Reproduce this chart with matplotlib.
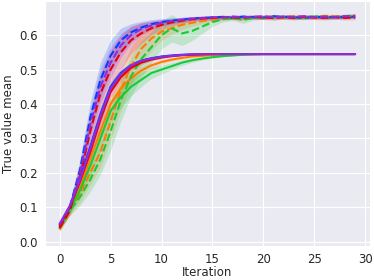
import matplotlib
matplotlib.use("Agg")
import matplotlib.pyplot as plt
import seaborn as sns
import numpy as np

sns.set_style("darkgrid")

iteration = list(range(30))

# bright palette: blue, orange, green, red, purple
colors = ["#023eff", "#ff7c00", "#1ac938", "#e8000b", "#8b2be2"]

# solid lines (mean) and spread
solid_blue = [0.050, 0.100, 0.185, 0.275, 0.370, 0.450, 0.490, 0.513, 0.526, 0.533, 0.538, 0.541, 0.543, 0.544] + [0.545] * 16
solid_orange = [0.040, 0.095, 0.160, 0.240, 0.320, 0.400, 0.445, 0.475, 0.497, 0.512, 0.522, 0.529, 0.534, 0.538, 0.540, 0.542, 0.543, 0.544] + [0.545] * 12
solid_green = [0.040, 0.090, 0.150, 0.220, 0.300, 0.380, 0.420, 0.450, 0.470, 0.490, 0.500, 0.510, 0.520, 0.527, 0.532, 0.536, 0.539, 0.541, 0.543, 0.544] + [0.545] * 10
solid_red = [0.045, 0.100, 0.175, 0.260, 0.355, 0.435, 0.478, 0.505, 0.520, 0.529, 0.535, 0.539, 0.542, 0.543, 0.544] + [0.545] * 15
solid_purple = [0.052, 0.105, 0.180, 0.270, 0.365, 0.445, 0.487, 0.512, 0.525, 0.532, 0.537, 0.540, 0.542, 0.544] + [0.545] * 16

solid_blue_sd = [0.006, 0.008, 0.015, 0.020, 0.020, 0.015, 0.010, 0.007, 0.005, 0.004, 0.003, 0.002] + [0.001] * 18
solid_orange_sd = [0.006, 0.010, 0.018, 0.025, 0.028, 0.025, 0.020, 0.016, 0.012, 0.009, 0.007, 0.005, 0.004, 0.003, 0.002] + [0.001] * 15
solid_green_sd = [0.006, 0.012, 0.022, 0.030, 0.035, 0.035, 0.032, 0.026, 0.020, 0.016, 0.013, 0.010, 0.008, 0.006, 0.004, 0.003, 0.002] + [0.001] * 13
solid_red_sd = [0.006, 0.009, 0.016, 0.022, 0.022, 0.018, 0.012, 0.008, 0.006, 0.004, 0.003, 0.002] + [0.001] * 18
solid_purple_sd = [0.006, 0.008, 0.015, 0.020, 0.020, 0.015, 0.010, 0.007, 0.005, 0.004, 0.003, 0.002] + [0.001] * 18

# dashed lines (mean) and spread
dash_blue = [0.045, 0.100, 0.210, 0.360, 0.470, 0.540, 0.585, 0.608, 0.622, 0.632, 0.638, 0.642, 0.645, 0.648, 0.650,
             0.651, 0.653, 0.650, 0.654, 0.652, 0.651, 0.655, 0.653, 0.652, 0.650, 0.654, 0.651, 0.653, 0.652, 0.654]
dash_orange = [0.035, 0.090, 0.140, 0.200, 0.260, 0.350, 0.440, 0.510, 0.560, 0.590, 0.610, 0.620, 0.630, 0.636, 0.641,
               0.645, 0.648, 0.651, 0.650, 0.653, 0.652, 0.654, 0.652, 0.655, 0.653, 0.652, 0.656, 0.654, 0.655, 0.657]
dash_green = [0.040, 0.090, 0.130, 0.180, 0.240, 0.320, 0.410, 0.480, 0.530, 0.565, 0.600, 0.620, 0.605, 0.612, 0.625,
              0.638, 0.646, 0.650, 0.644, 0.650, 0.652, 0.650, 0.653, 0.651, 0.652, 0.654, 0.653, 0.652, 0.655, 0.656]
dash_red = [0.040, 0.090, 0.190, 0.320, 0.430, 0.500, 0.550, 0.585, 0.605, 0.620, 0.630, 0.637, 0.642, 0.646, 0.648,
            0.650, 0.652, 0.651, 0.650, 0.653, 0.651, 0.650, 0.652, 0.650, 0.653, 0.651, 0.650, 0.652, 0.650, 0.651]
dash_purple = [0.050, 0.100, 0.200, 0.340, 0.450, 0.520, 0.570, 0.600, 0.618, 0.628, 0.636, 0.641, 0.645, 0.648, 0.650,
               0.652, 0.651, 0.654, 0.652, 0.653, 0.655, 0.652, 0.654, 0.653, 0.655, 0.652, 0.654, 0.653, 0.655, 0.656]

dash_blue_sd = [0.006, 0.012, 0.030, 0.045, 0.050, 0.045, 0.035, 0.025, 0.018, 0.013, 0.010, 0.008, 0.007, 0.006] + [0.005] * 16
dash_orange_sd = [0.006, 0.012, 0.025, 0.035, 0.045, 0.055, 0.060, 0.055, 0.045, 0.035, 0.025, 0.018, 0.014, 0.010, 0.008] + [0.006] * 15
dash_green_sd = [0.006, 0.014, 0.025, 0.035, 0.045, 0.055, 0.060, 0.058, 0.052, 0.045, 0.040, 0.040, 0.035, 0.028, 0.020,
                 0.012, 0.008, 0.007, 0.010, 0.007] + [0.006] * 10
dash_red_sd = [0.006, 0.012, 0.030, 0.045, 0.055, 0.055, 0.050, 0.040, 0.030, 0.020, 0.014, 0.010, 0.008, 0.007] + [0.006] * 16
dash_purple_sd = [0.006, 0.012, 0.030, 0.045, 0.050, 0.045, 0.035, 0.025, 0.018, 0.013, 0.010, 0.008, 0.007, 0.006] + [0.005] * 16

solids = [solid_blue, solid_orange, solid_green, solid_red, solid_purple]
solid_sds = [solid_blue_sd, solid_orange_sd, solid_green_sd, solid_red_sd, solid_purple_sd]
dashes = [dash_blue, dash_orange, dash_green, dash_red, dash_purple]
dash_sds = [dash_blue_sd, dash_orange_sd, dash_green_sd, dash_red_sd, dash_purple_sd]

fig = plt.figure(figsize=(3.74, 2.8), dpi=100)
ax = fig.add_subplot(111)
fig.subplots_adjust(left=0.12, right=0.989, top=0.995, bottom=0.122)

for i in range(5):
    m = np.array(solids[i])
    s = np.array(solid_sds[i])
    ax.fill_between(iteration, m - s, m + s, color=colors[i], alpha=0.2, linewidth=0)
    ax.plot(iteration, m, color=colors[i], linewidth=1.5)
    m = np.array(dashes[i])
    s = np.array(dash_sds[i])
    ax.fill_between(iteration, m - s, m + s, color=colors[i], alpha=0.2, linewidth=0)
    ax.plot(iteration, m, color=colors[i], linewidth=1.5, linestyle="--")

ax.set_xlim(-1.45, 30.45)
ax.set_ylim(-0.012, 0.698)
ax.set_xticks([0, 5, 10, 15, 20, 25, 30])
ax.set_yticks([0.0, 0.1, 0.2, 0.3, 0.4, 0.5, 0.6])
ax.tick_params(labelsize=8.5, pad=1.5)
ax.set_xlabel("Iteration", fontsize=8.5, labelpad=0)
ax.set_ylabel("True value mean", fontsize=8.5, labelpad=3)

fig.savefig("out.png", dpi=100)
